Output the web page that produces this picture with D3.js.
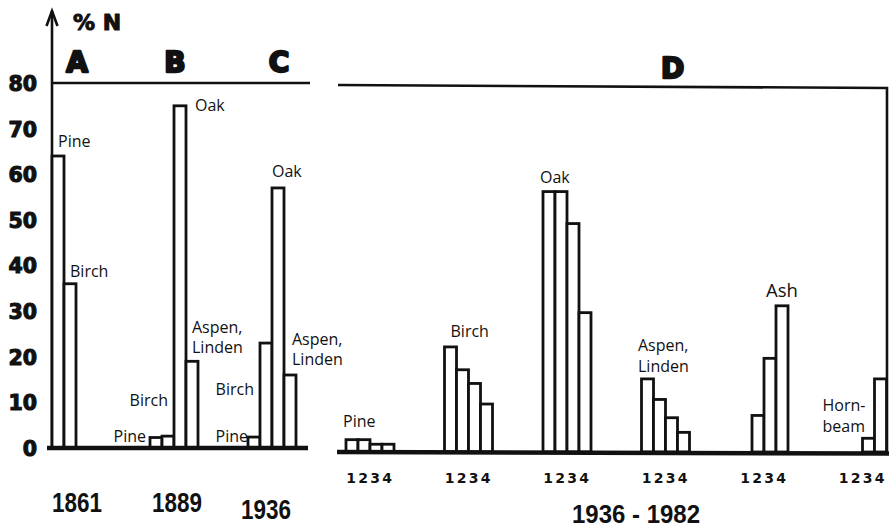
<!DOCTYPE html>
<html><head><meta charset="utf-8">
<script src="https://cdn.jsdelivr.net/npm/d3@7"></script>
<style>body{margin:0;background:#fff}svg{display:block}</style>
</head><body>
<svg id="chart" width="889" height="529"></svg>
<script>
// Share of tree species (% of stems) in the stand, three survey years and 1936-1982 periods
const yearsABC = ["1861", "1889", "1936"];
const panelLetters = ["A", "B", "C"];
const speciesABC = ["Pine", "Birch", "Oak", "Aspen, Linden"];
const valuesA = [64, 36, null, null];
const valuesB = [2.3, 2.6, 75, 19];
const valuesC = [2.4, 23, 57, 16];

const speciesD = ["Pine", "Birch", "Oak", "Aspen, Linden", "Ash", "Hornbeam"];
const periodsD = ["1", "2", "3", "4"];
const pineD = [2.7, 2.7, 1.7, 1.7];
const birchD = [23, 18, 15, 10.5];
const oakD = [57, 57, 50, 30.5];
const aspenD = [16, 11.5, 7.5, 4.3];
const ashD = [null, 8, 20.5, 32];
const hornbeamD = [null, null, 3, 16];
const yTicks = [0, 10, 20, 30, 40, 50, 60, 70, 80];
const yLabel = "% N";
const panelD = "D";
const periodTitle = "1936 - 1982";

const valuesABC = [valuesA, valuesB, valuesC];
const valuesD = [pineD, birchD, oakD, aspenD, ashD, hornbeamD];

const svg = d3.select("#chart");
svg.append("rect").attr("width", 889).attr("height", 529).attr("fill", "#fff");

// scales
const yL = d3.scaleLinear().domain([0, 80]).range([448, 83]);
const yD = d3.scaleLinear().domain([0, 80]).range([452, 86.5]);
const xYear = d3.scaleBand().domain(yearsABC).range([52, 52 + 3 * 98]);
const xSpecies = d3.scaleBand().domain(speciesABC).range([0, 48]);
const xGroupD = d3.scaleBand().domain(speciesD).range([346, 346 + 6 * 98.5]);
const xPeriod = d3.scaleBand().domain(periodsD).range([0, 48]);

const heavy = "'DejaVu Sans', sans-serif";
const label = "'Open Sans', sans-serif";

// y axis with tick labels
const axis = d3.axisLeft(yL).tickValues(yTicks).tickSize(0).tickPadding(15);
const ag = svg.append("g").attr("transform", "translate(52,0)").call(axis);
ag.select(".domain").remove();
ag.selectAll("text")
  .attr("font-family", heavy).attr("font-weight", "bold").attr("font-size", 20.5)
  .attr("fill", "#111").attr("stroke", "#111").attr("stroke-width", 1.1)
  .attr("stroke-linejoin", "round")
  .attr("dy", "0.36em");

// vertical axis line with arrow head
svg.append("line").attr("x1", 52).attr("x2", 52).attr("y1", yL(0) + 2).attr("y2", 11)
  .attr("stroke", "#111").attr("stroke-width", 2.6);
svg.append("path").attr("d", "M46.5,26 L52,11 L57.5,26")
  .attr("fill", "none").attr("stroke", "#111").attr("stroke-width", 2.6);
svg.append("text").attr("x", 73).attr("y", 30).text(yLabel)
  .attr("font-family", heavy).attr("font-weight", "bold").attr("font-size", 22)
  .attr("fill", "#111").attr("stroke", "#111").attr("stroke-width", 1)
  .attr("stroke-linejoin", "round");

// frames
svg.append("line").attr("x1", 52).attr("x2", 310).attr("y1", yL(80)).attr("y2", yL(80))
  .attr("stroke", "#111").attr("stroke-width", 2.6);
svg.append("path")
  .attr("d", `M338,${yD(80) - 1.5} L887,${yD(80) + 1.5} L887,${yD(0)}`)
  .attr("fill", "none").attr("stroke", "#111").attr("stroke-width", 2.6);

// panel letters
const letterDx = [25, 25, 31];
panelLetters.forEach((t, i) => {
  svg.append("text").attr("x", xYear(yearsABC[i]) + letterDx[i]).attr("y", 72)
    .attr("text-anchor", "middle").text(t)
    .attr("font-family", heavy).attr("font-weight", "bold").attr("font-size", 28)
    .attr("fill", "#111").attr("stroke", "#111").attr("stroke-width", 2.4)
    .attr("stroke-linejoin", "round");
});
svg.append("text").attr("x", xGroupD("Aspen, Linden") + 31).attr("y", 78)
  .attr("text-anchor", "middle").text(panelD)
  .attr("font-family", heavy).attr("font-weight", "bold").attr("font-size", 28)
  .attr("fill", "#111").attr("stroke", "#111").attr("stroke-width", 2.4)
  .attr("stroke-linejoin", "round");

// bars, panels A-C
const barsABC = [];
yearsABC.forEach((yr, i) => speciesABC.forEach((sp, j) => {
  if (valuesABC[i][j] != null) barsABC.push({ yr, sp, v: valuesABC[i][j] });
}));
svg.append("g").selectAll("rect").data(barsABC).join("rect")
  .attr("x", d => xYear(d.yr) + xSpecies(d.sp))
  .attr("width", xSpecies.bandwidth())
  .attr("y", d => yL(d.v))
  .attr("height", d => yL(0) - yL(d.v))
  .attr("fill", "#fff").attr("stroke", "#111").attr("stroke-width", 2.8);

// bars, panel D
const barsD = [];
speciesD.forEach((sp, i) => periodsD.forEach((p, j) => {
  if (valuesD[i][j] != null) barsD.push({ sp, p, v: valuesD[i][j] });
}));
svg.append("g").selectAll("rect").data(barsD).join("rect")
  .attr("x", d => xGroupD(d.sp) + xPeriod(d.p))
  .attr("width", xPeriod.bandwidth())
  .attr("y", d => yD(d.v))
  .attr("height", d => yD(0) - yD(d.v))
  .attr("fill", "#fff").attr("stroke", "#111").attr("stroke-width", 2.8);

// baselines
svg.append("line").attr("x1", 47).attr("x2", 308).attr("y1", yL(0)).attr("y2", yL(0))
  .attr("stroke", "#111").attr("stroke-width", 4.5);
svg.append("line").attr("x1", 337).attr("x2", 889).attr("y1", yD(0)).attr("y2", yD(0) + 1.5)
  .attr("stroke", "#111").attr("stroke-width", 4.5);

// period numbers under each group in D
speciesD.forEach(sp => periodsD.forEach(p => {
  svg.append("text").attr("x", xGroupD(sp) + xPeriod(p) + 5).attr("y", 483)
    .attr("text-anchor", "middle").text(p)
    .attr("font-family", heavy).attr("font-weight", "bold").attr("font-size", 14)
    .attr("fill", "#111");
}));

// year labels
const yearDx = [25, 27, 18];
const yearY = [512, 512, 519];
yearsABC.forEach((yr, i) => {
  svg.append("text").attr("x", xYear(yr) + yearDx[i]).attr("y", yearY[i])
    .attr("text-anchor", "middle").text(yr)
    .attr("font-family", "'Liberation Sans', Arial, sans-serif").attr("font-weight", "bold")
    .attr("font-size", 27).attr("textLength", 50).attr("lengthAdjust", "spacingAndGlyphs")
    .attr("fill", "#111");
});
svg.append("text").attr("x", 636).attr("y", 523).attr("text-anchor", "middle").text(periodTitle)
  .attr("font-family", "'Liberation Sans', Arial, sans-serif").attr("font-weight", "bold")
  .attr("font-size", 25).attr("textLength", 128).attr("lengthAdjust", "spacingAndGlyphs")
  .attr("fill", "#111");

// species annotations: anchored on a bar top
function annotate(x, yTop, lines, anchor, dx, dy, size, lh) {
  const t = svg.append("text").attr("font-family", label).attr("font-size", size || 16)
    .attr("fill", "#111").attr("text-anchor", anchor);
  lines.forEach((s, k) => t.append("tspan").attr("x", x + dx).attr("y", yTop + dy + k * (lh || 20)).text(s));
}
const notesABC = [
  [0, 0, ["Pine"], "start", 6, -9],
  [0, 1, ["Birch"], "start", 6, -7],
  [1, 2, ["Oak"], "start", 21, 5],
  [1, 3, ["Aspen,", "Linden"], "start", 6, -28],
  [1, 1, ["Birch"], "end", 6, -30],
  [1, 0, ["Pine"], "end", -4, 4.5],
  [2, 2, ["Oak"], "start", 0, -11],
  [2, 3, ["Aspen,", "Linden"], "start", 8, -30],
  [2, 1, ["Birch"], "end", -6, 52],
  [2, 0, ["Pine"], "end", 0, 5]
];
notesABC.forEach(([i, j, lines, anchor, dx, dy]) => {
  const x = xYear(yearsABC[i]) + xSpecies(speciesABC[j]);
  annotate(x, yL(valuesABC[i][j]), lines, anchor, dx, dy);
});
const notesD = [
  [0, 0, ["Pine"], "start", -3, -13, 16],
  [1, 0, ["Birch"], "start", 6, -10, 16],
  [2, 0, ["Oak"], "start", -3, -9, 16],
  [3, 0, ["Aspen,", "Linden"], "start", -3.5, -28, 16],
  [4, 3, ["Ash"], "start", -10, -9, 18.5],
  [5, 3, ["Horn-", "beam"], "start", -52, 32, 16]
];
notesD.forEach(([i, j, lines, anchor, dx, dy, size]) => {
  const x = xGroupD(speciesD[i]) + xPeriod(periodsD[j]);
  annotate(x, yD(valuesD[i][j]), lines, anchor, dx, dy, size, 21);
});
</script>
</body></html>
